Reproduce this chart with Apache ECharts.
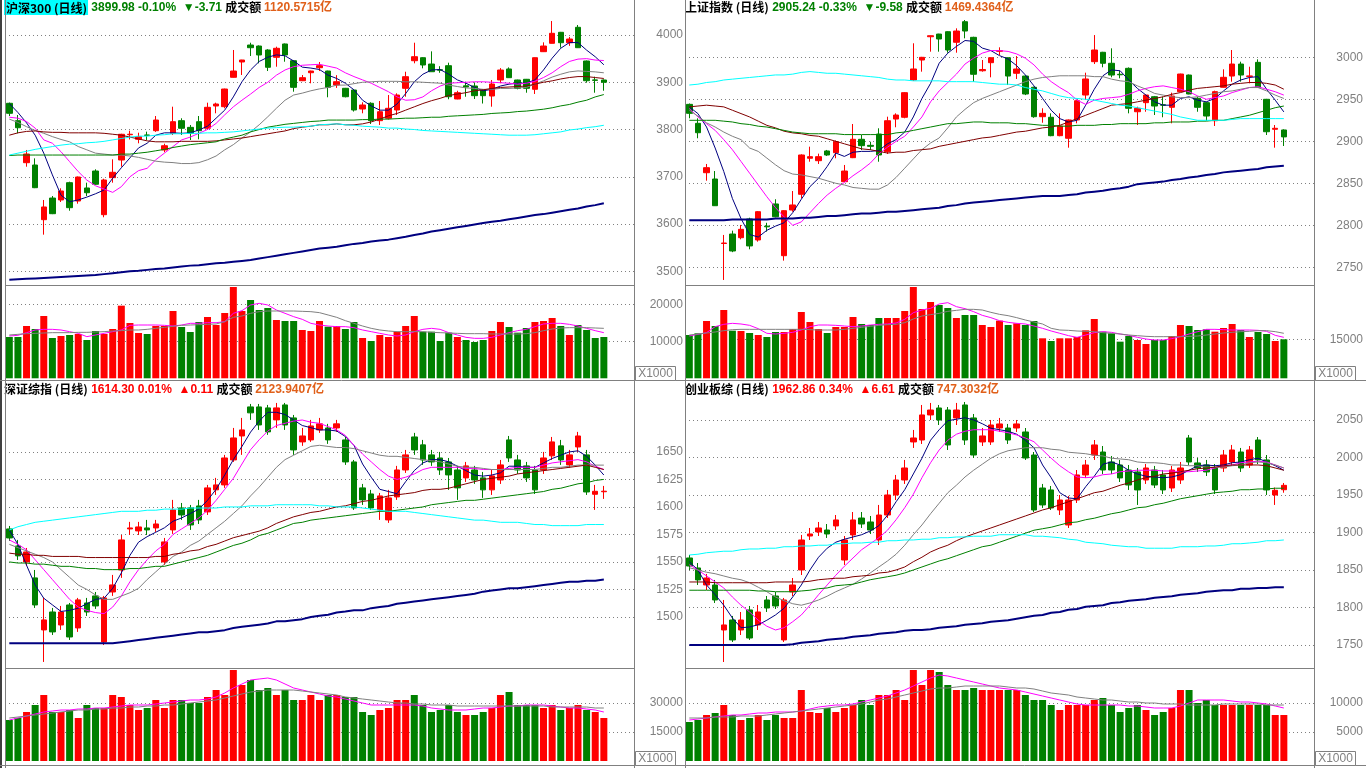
<!DOCTYPE html>
<html><head><meta charset="utf-8">
<script src="https://cdn.jsdelivr.net/npm/echarts@6/dist/echarts.min.js"></script>
<style>html,body{margin:0;padding:0;background:#fff;overflow:hidden}#c{width:1366px;height:768px}</style>
</head><body><div id="c"></div><script>
// ---------- 沪深300 (top-left) ----------
const tlOHLC = [[3855.5,3834.3,3828.6,3857],[3818.7,3803.8,3792,3830.7],[3729.8,3748.2,3721.3,3756.7],[3724.9,3676.9,3676,3739],[3609.2,3636.1,3577.5,3650.9],[3655,3621.9,3621,3659.3],[3650.9,3669.9,3646.6,3675.6],[3687.5,3634.6,3628.2,3689.6],[3648.7,3699.5,3643,3700.5],[3676.3,3666.3,3659.3,3687.5],
[3712.2,3684.1,3683,3715.8],[3619.8,3693.2,3614.3,3695.9],[3698.1,3709.5,3687.5,3736.9],[3735.5,3789.9,3721.3,3791],[3789,3790,3779,3797.5],[3779.3,3784.8,3770.8,3793.3],[3788.5,3787.5,3777.8,3795.5],[3797.5,3820.1,3795,3828.6],[3756.7,3765.7,3752,3770],[3792,3816.6,3788.4,3848.3],
[3818.7,3802.6,3788.4,3823.8],[3804.6,3792,3777.8,3809.6],[3816.6,3797.5,3779.3,3828.6],[3802.6,3847,3799,3856.8],[3849.8,3854,3834.3,3856.8],[3848.3,3885.7,3844.9,3886.5],[3910.5,3923.8,3910,3968.3],[3942.9,3947.1,3915.4,3947.5],[3978.8,3973.1,3955.6,3983.7],[3976.7,3957.7,3940.1,3978],
[3968.3,3931.7,3923.8,3970],[3952.8,3971.9,3932.9,3975.3],[3981,3957.7,3943.5,3982],[3945.6,3889.3,3880,3946.5],[3903.3,3909.7,3902.5,3915.4],[3920.2,3923.8,3897.8,3924.5],[3930.8,3935.1,3923.8,3942.9],[3923.8,3889.3,3868.2,3924.5],[3894.2,3901.2,3888,3915],[3887.2,3869.4,3868,3888],
[3883.6,3841.3,3838,3884.5],[3843.4,3851.9,3834.3,3857.6],[3855.5,3818.7,3811.7,3857.6],[3818.7,3837.7,3809.6,3860.3],[3823.8,3844.9,3821,3873],[3841.3,3873,3830.7,3876.6],[3887.2,3911.8,3869.4,3922.3],[3945.6,3954.1,3940.1,3983.7],[3952,3936.5,3929.5,3953],[3938.6,3922.3,3922,3965.4],
[3926.5,3925.5,3920,3934],[3935.1,3869.4,3864,3941.4],[3864.6,3877.9,3864,3882],[3892.5,3890,3869.4,3901.2],[3892.1,3871.6,3864.6,3899.7],[3883.6,3871.6,3855,3885],[3870.9,3896.3,3848.3,3904.8],[3904.8,3925.9,3898,3930],[3928.1,3909.7,3909,3931.5],[3904.8,3887.2,3885,3905.5],
[3906.3,3887.2,3877.9,3907],[3885.1,3952,3875.2,3952.5],[3964.7,3976.7,3964,3984.5],[3982.4,4003.6,3982,4029.6],[4005.7,3983.7,3973.1,4006.5],[3983.7,3991.5,3977,3996],[4016.3,3973.1,3972.5,4021.2],[3945,3903.3,3899.1,3946],[3905,3904,3877.9,3911.8],[3904.8,3899.98,3882.1,3906]];
const tlMA5 = [3855,3836,3814,3788,3750,3704,3661,3647,3651,3657,3664,3672,3697,3719,3740,3761,3771,3788,3793,3793,3792,3793,3799,3807,3824,3841,3869,3901,3926,3944,3953,3958,3956,3945,3932,3930,3927,3915,3908,3898,3884,3862,3850,3841,3841,3854,3876,3901,3917,3926,3927,3917,3905,3898,3889,3882,3885,3892,3896,3898,3898,3905,3926,3951,3972,3984,3984,3968,3954,3937];
const tlMA10 = [3826,3824,3817,3803,3778,3771,3753,3732,3711,3693,3681,3674,3667,3679,3700,3713,3718,3736,3750,3764,3778,3784,3792,3800,3813,3831,3848,3862,3875,3889,3900,3915,3926,3933,3936,3937,3938,3934,3930,3920,3912,3905,3898,3889,3880,3869,3862,3863,3869,3882,3892,3898,3899,3900,3901,3901,3900,3899,3898,3896,3898,3902,3910,3920,3933,3944,3949,3950,3947,3946];
const tlMA20 = [3822,3815,3806,3798,3792,3785,3779,3774,3764,3757,3750,3748,3746,3746,3744,3741,3737,3733,3731,3730,3728,3728,3730,3736,3744,3757,3768,3782,3795,3810,3827,3845,3862,3873,3877,3882,3886,3889,3894,3894,3897,3900,3901,3902,3902,3902,3901,3901,3900,3899,3898,3894,3891,3888,3887,3885,3885,3887,3887,3888,3889,3896,3903,3911,3917,3922,3924,3923,3922,3920];
const tlMA30 = [3788,3793,3796,3797,3795,3794,3794,3793,3793,3793,3793,3792,3790,3788,3784,3780,3776,3774,3774,3774,3775,3775,3775,3775,3776,3778,3780,3782,3785,3788,3791,3794,3797,3802,3805,3807,3810,3810,3812,3810,3810,3812,3816,3822,3829,3834,3841,3848,3855,3861,3866,3872,3875,3878,3882,3884,3887,3889,3890,3891,3892,3896,3900,3903,3907,3910,3912,3912,3910,3908];
const tlMA60 = [3745,3746,3746,3746,3746,3746,3746,3746,3746,3746,3746,3746,3746,3748,3748,3750,3752,3755,3758,3762,3765,3768,3770,3772,3774,3780,3784,3788,3795,3800,3805,3808,3811,3813,3815,3817,3818,3820,3820,3820,3820,3821,3821,3822,3822,3823,3824,3824,3825,3826,3826,3828,3829,3830,3831,3832,3834,3835,3836,3838,3839,3841,3843,3846,3850,3853,3858,3862,3869,3874];
const tlMA120 = [3746,3750,3754,3758,3761,3764,3767,3769,3770,3772,3773,3775,3778,3781,3784,3786,3786,3788,3789,3791,3791,3792,3792,3793,3793,3794,3795,3797,3799,3801,3803,3804,3805,3805,3806,3807,3810,3811,3812,3810,3809,3807,3806,3805,3803,3803,3801,3800,3798,3797,3796,3795,3794,3793,3792,3791,3790,3789,3788,3788,3788,3789,3791,3793,3795,3799,3801,3804,3806,3809];
const tlMA250 = [3482,3483,3484,3485,3486,3487,3488,3489,3490,3491,3492,3494,3496,3498,3500,3501,3503,3505,3506,3508,3510,3512,3513,3515,3517,3518,3520,3522,3524,3527,3530,3533,3536,3539,3542,3545,3548,3550,3552,3555,3558,3560,3563,3565,3567,3570,3573,3577,3580,3584,3587,3590,3593,3596,3599,3602,3605,3607,3610,3613,3616,3619,3621,3624,3627,3630,3633,3637,3640,3644];
const tlVol = [11160,11160,14135,13324,16838,10892,11432,11703,11973,10351,12784,11973,13324,19630,14946,12243,11973,14135,14135,18189,13865,12514,15216,16568,14405,17649,24676,18189,21162,18459,19000,15757,15486,15486,13054,12784,15486,13955,14135,13324,15216,10892,10081,11703,11162,12604,14135,16838,12604,12604,10081,12333,11162,10351,9811,10351,12784,15216,13865,12333,13595,15216,15486,16297,14135,11703,14405,13054,10892,11162];
const tlVolMA5 = [11432,11613,12333,13054,13234,13234,13054,12604,12153,11252,11703,12153,12604,13054,14315,14405,14405,14405,14315,14135,14405,14856,14856,15036,15036,15306,17559,18279,19811,20261,19811,18459,17559,16658,15937,14856,14405,14135,13955,13955,13685,13054,12604,12153,11703,11432,11703,12604,13234,13505,13234,12333,11703,11072,10802,10802,11072,11703,12333,12874,13234,13955,14676,14856,14856,14585,14135,13505,12874,12333];
const tlVolMA10 = [11703,11883,12063,12153,12243,12333,12333,12333,12423,12423,12514,12604,12784,12874,13054,13054,13234,13505,13775,14045,14315,14405,14495,14585,14676,15306,16478,16838,17559,18009,18189,18189,18189,18189,18099,18009,17739,17108,16478,15577,14856,14135,13505,13054,12784,12604,12604,12604,12604,12423,12333,12243,12153,12063,12063,12063,11973,11973,11973,11973,12063,12333,12874,13324,13595,13685,13685,13685,13595,13505];
const tlTicks = [3500,3600,3700,3800,3900,4000];
const tlVolTicks = [10000,20000];

// ---------- 上证指数 (top-right) ----------
const trOHLC = [[2944,2933.3,2927.4,2945],[2921.4,2910.2,2903.6,2927.4],[2862.6,2868.6,2853.1,2873],[2855.1,2823.3,2823,2864.6],[2778.3,2778.9,2734.9,2788.5],[2789.6,2769.4,2768,2793.6],[2785.2,2795.2,2783.3,2800.4],[2807.5,2775.4,2771.4,2809],[2782.5,2816.2,2780.5,2817],[2799,2798.2,2792.4,2803],
[2825.4,2810.2,2809.5,2831],[2763.8,2817.4,2757.9,2818],[2818.2,2824.2,2816.2,2840.8],[2836.9,2883.7,2832.1,2884.5],[2879.8,2881.7,2875.7,2893.6],[2876.9,2881.7,2873,2885.3],[2888.5,2883.7,2882.5,2889.7],[2886.4,2899.5,2879.8,2901],[2851.9,2864.6,2851.5,2871.8],[2880.5,2902.4,2880,2920.6],
[2902.4,2894.8,2889.6,2907.5],[2895.2,2894,2889.6,2899.5],[2908.7,2883.7,2875.7,2915.5],[2887.6,2924.5,2884.9,2929.3],[2926.5,2931.3,2916.7,2933.3],[2928.6,2957.9,2927.4,2958.5],[2973,2986.1,2972,3016.7],[2996.8,3000,2982.9,3000.5],[3024.5,3025.7,3006.7,3026],[3027.7,3021.8,3006.7,3028],
[3030.5,3008.7,3005.5,3031],[3017.9,3031.3,3005.5,3034.5],[3042.4,3031.3,3022.6,3044.4],[3023.8,2979.8,2971,3024.5],[2984,2985.5,2982.9,2996.8],[2993.6,2999.5,2976.2,3000],[3007.2,3007.9,3002.7,3011.9],[2999.5,2977.7,2967,3000],[2981,2986.1,2974.2,3001.5],[2977.7,2956.3,2955,2978.5],
[2964.3,2929.3,2928,2965],[2929.3,2933.3,2922.1,2939.3],[2928.6,2906.7,2906,2933.3],[2906.7,2918.2,2906,2933.3],[2903.6,2925.4,2892.4,2926],[2925.4,2948.3,2921.4,2949],[2955.1,2974.2,2950,2981.7],[2994.8,3008.7,2992,3026.5],[3006,2992.9,2988.1,3006.5],[2992.9,2978.9,2976.2,3010.7],
[2979.8,2979.2,2975,2983.7],[2986.9,2939.3,2933.3,2988],[2935.2,2939.3,2919.4,2941.2],[2946,2955.1,2935.2,2955.5],[2953.1,2942,2931.3,2954],[2943.5,2943,2928.6,2953.1],[2940.5,2953.9,2921.4,2957.9],[2959.1,2980.1,2959,2980.5],[2978.9,2956.3,2956,2979.5],[2951.2,2940.5,2935.2,2953.1],
[2946,2930.1,2924.5,2947],[2924.5,2959.1,2918.2,2960.3],[2964.3,2976.2,2964,2985.7],[2977.7,2992,2971,3008.7],[2992,2978.9,2971,2994.8],[2977.3,2977.8,2969,2988.8],[2994,2964.3,2964,2997.6],[2950,2911.4,2907.5,2950.5],[2914.3,2915.5,2892.4,2919.4],[2913.5,2905.24,2894.4,2914.3]];
const trMA5 = [2941,2933,2917,2892,2864,2832,2808,2789,2786,2794,2799,2803,2815,2831,2846,2856,2870,2886,2882,2887,2888,2888,2889,2897,2902,2911,2929,2951,2969,2993,3005,3013,3020,3019,3011,3008,3002,2998,2990,2979,2966,2951,2937,2927,2923,2925,2943,2962,2978,2985,2984,2973,2963,2955,2947,2943,2943,2951,2953,2949,2947,2951,2960,2968,2973,2976,2977,2962,2949,2935];
const trMA10 = [2939,2929,2921,2913,2902,2890,2876,2862,2848,2834,2821,2810,2800,2804,2815,2826,2836,2844,2851,2859,2866,2874,2885,2893,2900,2906,2917,2929,2947,2960,2970,2980,2992,2999,3005,3008,3008,3007,3004,2999,2991,2980,2971,2964,2958,2949,2944,2949,2951,2952,2953,2956,2960,2963,2965,2966,2964,2962,2959,2954,2950,2952,2954,2958,2961,2964,2965,2962,2959,2955];
const trMA20 = [2937,2930,2922,2917,2911,2906,2902,2892,2888,2880,2872,2865,2861,2860,2858,2856,2853,2850,2848,2845,2844,2843,2843,2848,2857,2868,2879,2890,2898,2904,2916,2929,2938,2946,2951,2955,2959,2963,2967,2971,2974,2976,2977,2978,2978,2978,2978,2977,2977,2974,2972,2971,2966,2962,2957,2955,2953,2952,2952,2953,2955,2957,2959,2960,2962,2964,2964,2960,2955,2951];
const trMA30 = [2941,2942,2943,2942,2941,2937,2933,2929,2924,2919,2916,2912,2910,2909,2907,2906,2903,2900,2897,2894,2891,2890,2888,2886,2887,2887,2889,2890,2891,2894,2896,2898,2900,2902,2904,2905,2907,2909,2911,2912,2914,2916,2917,2919,2923,2927,2931,2935,2939,2943,2944,2945,2947,2949,2951,2953,2956,2958,2961,2963,2964,2965,2966,2968,2969,2970,2970,2969,2967,2962];
const trMA60 = [2925,2925,2925,2925,2924,2923,2921,2920,2918,2917,2915,2913,2911,2910,2909,2909,2909,2909,2908,2908,2908,2908,2908,2908,2910,2911,2913,2915,2917,2919,2921,2921,2922,2923,2923,2922,2922,2922,2921,2921,2920,2919,2919,2918,2918,2919,2919,2919,2920,2920,2921,2921,2921,2921,2922,2922,2923,2923,2923,2924,2924,2925,2925,2927,2929,2931,2934,2937,2940,2942];
const trMA120 = [2967,2968,2970,2971,2973,2974,2975,2976,2977,2978,2979,2979,2980,2982,2983,2982,2981,2981,2980,2979,2978,2977,2976,2974,2973,2973,2972,2972,2972,2972,2971,2971,2971,2971,2970,2969,2968,2968,2967,2964,2962,2960,2957,2954,2952,2951,2950,2949,2947,2945,2943,2942,2940,2938,2936,2934,2932,2929,2927,2925,2925,2925,2925,2926,2927,2927,2927,2927,2927,2927];
const trMA250 = [2806,2806,2806,2806,2806,2807,2807,2807,2807,2807,2808,2808,2808,2809,2809,2810,2811,2811,2812,2813,2814,2814,2815,2816,2816,2817,2818,2819,2820,2821,2823,2824,2826,2827,2828,2829,2830,2831,2832,2833,2834,2835,2835,2835,2836,2837,2839,2840,2841,2843,2844,2846,2849,2850,2851,2852,2854,2855,2857,2858,2860,2861,2863,2864,2865,2866,2867,2869,2870,2871];
const trVol = [16654,17308,22038,20115,26269,18308,18192,17423,16654,15885,17808,17808,18962,25500,21654,18962,17423,19731,19731,23577,20885,20500,23192,23192,23192,25885,35115,26654,29346,28192,27038,23192,24346,24346,20500,19731,22167,20500,21141,20500,22038,15385,14346,15385,15385,15885,18449,22808,17936,17308,14090,16269,14731,13192,14731,14731,16269,20500,20115,18577,18833,17936,19346,20885,18577,15885,17808,17038,14346,15000];
const trVolMA5 = [16269,16910,17551,19859,20756,21141,20885,20372,19090,17308,17038,17308,17679,18577,19859,20500,20500,20372,20115,19859,20115,20500,20756,20885,21269,22679,25244,26269,26910,28577,29090,27551,26782,25628,24218,23321,22167,21526,21141,20885,20115,19218,18192,17308,16410,15756,16654,17551,17936,17679,17038,16526,15756,15115,14731,14731,15244,16012,17038,17936,18833,18833,18705,18577,18577,18577,18449,18064,16526,15756];
const trVolMA10 = [16654,17038,17423,17808,18320,18705,18833,18833,18833,18833,18833,18833,18833,18833,18705,18577,18577,18577,18833,19218,19603,19988,20372,20628,20756,21397,22808,23962,24474,24987,25756,26141,26526,26526,26269,25372,24603,24090,23321,22423,21654,20885,19218,18577,18449,18192,18064,17936,17551,17308,17038,16654,16397,16141,16012,16012,16012,16012,16141,16269,16654,17038,17423,17679,17936,18064,18320,18320,17936,17308];
const trTicks = [2750,2800,2850,2900,2950,3000,3050];
const trVolTicks = [15000];

// ---------- 深证综指 (bottom-left) ----------
const blOHLC = [[1580,1571.8,1569.1,1582.7],[1564.5,1555.5,1551.8,1570],[1550,1559.1,1546.4,1562.7],[1535.5,1510.9,1508.2,1542.7],[1488.2,1497.3,1459.1,1517.3],[1504.5,1486.4,1483.6,1508.2],[1492.7,1504.5,1488.2,1510],[1510.9,1481.8,1479.1,1512.7],[1490,1515.5,1486.4,1517.3],[1512.7,1504.5,1500.9,1517.3],
[1519.1,1510,1507.3,1522.7],[1477.3,1517.3,1474.5,1519.1],[1522.7,1529.1,1519.1,1538.2],[1542.7,1570,1535.5,1574.5],[1580,1580.9,1574.5,1586.4],[1578.2,1581.8,1574.5,1586.4],[1580.9,1579.1,1574.5,1588.2],[1580.9,1584.5,1577.3,1588.2],[1550,1568.2,1547.3,1571.8],[1579.1,1597.3,1575.5,1606.4],
[1599.1,1592.7,1588.2,1603.6],[1599.1,1583.6,1579.1,1601.8],[1600.9,1588.2,1584.5,1606.4],[1595.5,1617.3,1592.7,1620],[1615.5,1620,1610.9,1626.4],[1620,1644.5,1617.3,1647.3],[1642.7,1662.7,1640.9,1671.8],[1664.5,1670,1647.3,1680.9],[1690.9,1685.5,1679.1,1693.6],[1690.9,1674.5,1670,1693.6],
[1690,1668.2,1665.5,1692.7],[1679.1,1690,1671.8,1694.5],[1692.7,1674.5,1670,1694.5],[1680.9,1651.8,1647.3,1683.6],[1659.1,1664.5,1655.5,1671.8],[1660.9,1673.6,1659.1,1679.1],[1670,1675.5,1667.3,1680.9],[1671.8,1660.9,1657.3,1675.5],[1671.8,1675.5,1668.2,1679.1],[1660.9,1640.9,1638.2,1663.6],
[1640.9,1599.1,1597.3,1642.7],[1617.3,1606.4,1601.8,1620.9],[1611.8,1599.1,1597.3,1615.5],[1597.3,1610,1588.2,1612.7],[1588.2,1608.2,1585.5,1615.5],[1609.1,1633.6,1606.4,1637.3],[1633.6,1647.3,1630.9,1651.8],[1663.6,1651.8,1647.3,1667.3],[1656.4,1642.7,1638.2,1660.9],[1647.3,1640.9,1637.3,1651.8],
[1644.5,1633.6,1629.1,1650],[1640.9,1629.1,1615.5,1644.5],[1633.6,1617.3,1606.4,1637.3],[1626.4,1637.3,1622.7,1640.9],[1633.6,1624.5,1620.9,1637.3],[1626.4,1615.5,1608.2,1631.8],[1615.5,1628.2,1610.9,1633.6],[1624.5,1638.2,1620.9,1642.7],[1660.9,1644.5,1640.9,1664.5],[1642.7,1633.6,1630,1647.3],
[1637.3,1626.4,1622.7,1640.9],[1633.6,1615.5,1611.8,1637.3],[1633.6,1644.5,1630,1650],[1646.4,1659.1,1642.7,1663.6],[1655.5,1642.7,1638.2,1660.9],[1638.2,1647.3,1635.5,1651.8],[1654.5,1664.5,1650,1668.2],[1647.3,1613.6,1610.9,1651.8],[1611.5,1614.19,1597.3,1620],[1613.8,1614.3,1607.3,1619.1]];
const blMA5 = [1579,1566,1547,1529,1517,1511,1505,1506,1508,1512,1516,1517,1526,1540,1556,1568,1573,1577,1581,1587,1590,1594,1598,1606,1616,1629,1643,1655,1668,1678,1686,1686,1684,1679,1674,1672,1670,1670,1669,1664,1656,1639,1627,1616,1614,1612,1623,1633,1640,1643,1643,1641,1637,1633,1629,1628,1629,1631,1637,1637,1636,1636,1640,1644,1647,1650,1651,1646,1638,1629];
const blMA10 = [1570,1566,1561,1552,1543,1534,1525,1516,1509,1506,1504,1503,1509,1519,1532,1543,1552,1560,1566,1575,1580,1585,1590,1597,1606,1616,1626,1639,1652,1661,1669,1674,1676,1678,1679,1677,1676,1673,1670,1665,1656,1648,1641,1634,1628,1625,1627,1630,1634,1636,1636,1636,1636,1635,1635,1634,1634,1634,1635,1636,1636,1636,1638,1640,1641,1642,1643,1641,1637,1634];
const blMA20 = [1566,1563,1560,1557,1554,1550,1543,1536,1529,1525,1520,1516,1516,1519,1522,1526,1534,1541,1548,1555,1559,1565,1569,1575,1581,1587,1594,1601,1610,1618,1627,1636,1643,1647,1651,1655,1656,1655,1654,1654,1653,1651,1649,1647,1646,1646,1645,1644,1643,1642,1641,1639,1637,1636,1636,1635,1634,1634,1634,1634,1634,1634,1635,1636,1636,1637,1638,1638,1638,1638];
const blMA30 = [1558,1557,1557,1556,1556,1555,1555,1555,1555,1554,1554,1554,1554,1554,1554,1554,1554,1555,1555,1557,1558,1560,1561,1564,1566,1569,1572,1574,1576,1578,1581,1585,1588,1591,1593,1595,1596,1598,1600,1601,1603,1605,1606,1608,1610,1611,1612,1613,1615,1616,1616,1617,1619,1621,1623,1625,1626,1627,1628,1630,1631,1632,1633,1634,1635,1636,1637,1638,1636,1634];
const blMA60 = [1550,1549,1549,1548,1548,1547,1546,1546,1545,1544,1544,1543,1543,1543,1544,1544,1545,1546,1546,1548,1550,1552,1554,1556,1559,1562,1565,1567,1570,1574,1576,1579,1582,1585,1586,1588,1589,1590,1591,1592,1593,1594,1595,1596,1596,1597,1598,1599,1600,1602,1603,1604,1605,1606,1606,1607,1608,1609,1610,1611,1612,1613,1614,1616,1617,1619,1621,1622,1624,1625];
const blMA120 = [1579,1582,1584,1586,1587,1588,1589,1590,1591,1592,1593,1594,1595,1596,1596,1596,1597,1597,1598,1598,1598,1599,1599,1599,1599,1600,1600,1600,1601,1601,1601,1602,1602,1602,1602,1602,1601,1601,1600,1600,1600,1599,1598,1597,1596,1596,1596,1595,1594,1593,1592,1591,1590,1589,1588,1588,1587,1586,1586,1586,1585,1584,1584,1583,1583,1583,1583,1584,1584,1584];
const blMA250 = [1476,1476,1476,1476,1476,1476,1476,1476,1476,1476,1476,1476,1476,1477,1478,1479,1480,1481,1482,1483,1484,1485,1486,1486,1487,1488,1490,1491,1492,1493,1494,1496,1496,1497,1498,1500,1501,1502,1504,1505,1506,1506,1508,1509,1510,1512,1513,1514,1515,1516,1517,1518,1519,1520,1521,1523,1524,1525,1526,1526,1527,1528,1529,1530,1531,1532,1532,1533,1533,1534];
const blVol = [21205,22240,25343,28963,34135,25343,25343,26377,22240,28963,27412,27412,34135,33101,28963,26377,27412,31549,27412,31549,31549,29998,29998,33101,36721,34135,47065,39307,41893,36721,37756,34135,36721,31549,31549,34135,31549,34135,34135,33101,33101,25343,23791,26377,27412,31549,31549,34135,28963,25343,26377,28963,25343,23791,23791,25343,27412,34135,35687,28963,28963,28963,27412,28963,26377,27412,28963,26377,25343,22240];
const blVolMA5 = [21205,22240,23274,24308,25343,25860,26377,26377,26894,26894,27412,27412,27929,28446,28963,28963,28963,29480,29998,30515,31032,31549,31549,32066,33101,35170,37756,39824,41893,42410,42928,41893,39824,37756,36721,35687,34652,33618,33101,32066,31032,29998,28963,28963,28963,28963,28963,28963,28446,27412,26894,26377,26377,26377,26894,27412,27412,27929,28446,28446,28963,28963,28963,28446,27929,27412,27412,26894,26377,25343];
const blVolMA10 = [22240,22757,23274,23791,24308,24826,25343,25860,26377,26377,26894,26894,27412,27412,27929,27929,28446,28446,28963,28963,29480,29998,30515,31032,31549,32584,33618,34652,35687,36204,36721,36721,36721,36721,36204,35687,35170,34652,34135,33101,32584,32066,31549,31032,30515,29998,29998,29480,29480,28963,28963,28963,28446,28446,28446,28446,28446,28446,28446,28446,28446,28446,28446,27929,27929,27929,27929,27929,27412,27412];
const blTicks = [1500,1525,1550,1575,1600,1625,1650];
const blVolTicks = [15000,30000];

// ---------- 创业板综 (bottom-right) ----------
const brOHLC = [[1866,1855.3,1850,1870],[1852.7,1836.7,1830,1859.3],[1830,1839.3,1823.3,1844.7],[1830,1810,1806,1836.7],[1770,1776.7,1727.3,1810],[1783.3,1756.7,1754,1788.7],[1770,1783.3,1763.3,1794],[1796.7,1759.3,1756.7,1802],[1776.7,1794,1770,1803.3],[1810,1799.3,1794,1815.3],
[1815.3,1802,1798,1820.7],[1756.7,1810,1754,1812.7],[1820.7,1830,1815.3,1839.3],[1850,1890,1843.3,1896.7],[1895.3,1898,1890,1906],[1900.7,1906,1895.3,1914],[1903.3,1898,1892.7,1911.3],[1908.7,1916.7,1903.3,1923.3],[1863.3,1890,1856.7,1895.3],[1896.7,1916.7,1890,1927.3],
[1919.3,1911.3,1906,1927.3],[1914,1903.3,1898,1922],[1890,1923.3,1883.3,1936.7],[1923.3,1950,1919.3,1956.7],[1950,1970,1943.3,1976.7],[1970,1986,1964.7,1996.7],[2020.7,2026,2012.7,2036.7],[2023.3,2056.7,2018,2070],[2056.7,2063.3,2050,2072.7],[2066,2050,2043.3,2070],
[2063.3,2016.7,2010,2067.3],[2052.7,2063.3,2043.3,2072.7],[2070,2023.3,2016.7,2074],[2052.7,2003.3,1999.3,2058],[2020.7,2028.7,2015.3,2039.3],[2020.7,2043.3,2016.7,2050],[2039.3,2044.7,2034,2052.7],[2039.3,2023.3,2018,2044.7],[2039.3,2044.7,2034,2050],[2034,1999.3,1996.7,2039.3],
[2003.3,1930,1927.3,2007.3],[1959.3,1936.7,1932.7,1964.7],[1956.7,1932.7,1930,1962],[1930,1943.3,1923.3,1950],[1910,1943.3,1906,1948.7],[1943.3,1976.7,1939.3,1983.3],[1976.7,1990,1972.7,1996.7],[2003.3,2016.7,1996.7,2023.3],[2007.3,1983.3,1978,2015.3],[1994,1983.3,1978,2002],
[1990,1972.7,1967.3,1996.7],[1983.3,1963.3,1956.7,1990],[1980.7,1956.7,1936.7,1986],[1970,1986,1964.7,1991.3],[1983.3,1963.3,1959.3,1988.7],[1976.7,1956.7,1951.3,1983.3],[1959.3,1983.3,1954,1988.7],[1970,1986,1964.7,1994],[2026,1994,1990,2030],[1992.7,1986,1980.7,1999.3],
[1990,1980.7,1975.3,1996.7],[1986,1956.7,1951.3,1991.3],[1986,2003.3,1980.7,2010],[1994,2010,1988.7,2016.7],[2007.3,1986,1980.7,2012.7],[1990,2010,1986,2015.3],[2023.3,1996.7,1991.3,2027.3],[1996.7,1956.7,1950,2003.3],[1950,1956.25,1936.7,1960],[1957,1962.86,1953,1966]];
const brMA5 = [1861,1850,1830,1817,1803,1786,1773,1774,1777,1783,1790,1799,1814,1830,1850,1867,1879,1887,1891,1894,1897,1902,1909,1923,1941,1957,1978,1999,2023,2037,2049,2051,2053,2050,2045,2039,2037,2035,2031,2023,2013,1990,1973,1953,1946,1945,1961,1975,1991,1994,1990,1983,1978,1975,1974,1973,1974,1977,1983,1989,1990,1989,1990,1993,1994,1997,1999,1994,1989,1983];
const brMA10 = [1857,1850,1842,1834,1826,1814,1803,1794,1783,1775,1770,1773,1781,1790,1803,1817,1830,1843,1855,1866,1877,1885,1893,1903,1917,1933,1951,1973,1993,2010,2023,2031,2035,2037,2037,2037,2035,2033,2030,2026,2021,2010,1999,1989,1981,1974,1973,1974,1977,1978,1981,1982,1983,1983,1983,1982,1982,1981,1981,1982,1983,1986,1989,1990,1993,1994,1995,1994,1990,1986];
const brMA20 = [1853,1850,1847,1845,1842,1839,1837,1833,1827,1821,1814,1809,1805,1803,1806,1810,1815,1821,1826,1831,1838,1846,1854,1862,1871,1883,1897,1910,1925,1939,1953,1963,1974,1983,1991,1999,2005,2009,2011,2013,2013,2013,2011,2010,2007,2006,2005,2003,2002,1999,1998,1997,1994,1993,1993,1992,1990,1990,1989,1989,1987,1987,1987,1989,1990,1993,1994,1993,1990,1986];
const brMA30 = [1834,1834,1834,1833,1833,1833,1833,1833,1833,1833,1834,1834,1834,1834,1835,1837,1838,1839,1839,1841,1842,1843,1846,1847,1850,1854,1861,1867,1874,1879,1883,1889,1894,1898,1902,1906,1910,1914,1918,1922,1926,1930,1933,1937,1941,1945,1949,1953,1955,1959,1963,1966,1970,1973,1975,1978,1979,1981,1983,1985,1986,1987,1989,1990,1990,1990,1990,1989,1986,1983];
const brMA60 = [1823,1823,1823,1823,1823,1823,1823,1823,1822,1822,1821,1821,1821,1822,1823,1825,1826,1829,1830,1831,1834,1837,1839,1841,1843,1846,1850,1854,1858,1862,1865,1869,1873,1877,1881,1883,1887,1891,1895,1899,1903,1905,1907,1910,1913,1914,1917,1919,1922,1925,1927,1930,1933,1934,1937,1939,1942,1945,1947,1949,1951,1953,1954,1955,1957,1957,1958,1958,1959,1959];
const brMA120 = [1870,1871,1873,1874,1875,1875,1877,1878,1878,1879,1879,1881,1881,1882,1882,1883,1883,1885,1885,1886,1886,1887,1887,1889,1889,1890,1890,1891,1891,1893,1893,1894,1894,1895,1895,1895,1897,1897,1897,1897,1895,1895,1894,1893,1891,1890,1887,1886,1885,1883,1882,1881,1881,1879,1879,1879,1879,1881,1881,1881,1882,1882,1883,1885,1885,1886,1887,1889,1889,1890];
const brMA250 = [1750,1750,1750,1750,1750,1750,1750,1750,1750,1750,1750,1750,1751,1753,1754,1755,1757,1758,1759,1761,1762,1763,1765,1766,1767,1769,1770,1770,1771,1773,1774,1775,1777,1778,1779,1781,1782,1783,1785,1787,1789,1790,1793,1794,1797,1798,1801,1802,1803,1806,1807,1809,1810,1811,1813,1814,1815,1817,1818,1819,1821,1822,1823,1823,1825,1825,1826,1826,1827,1827];
const brVol = [6724,7068,7930,8275,9654,7930,7068,7413,7930,7068,7930,7413,7413,12240,8448,8275,9137,8448,9137,9654,10516,9654,11378,11378,12240,10516,15688,13102,15688,15344,13102,12240,12240,12585,12240,12240,12240,12240,12240,11378,10516,10516,9654,8792,9654,9654,9654,10516,10861,9654,8448,9137,9654,8792,7930,8448,9137,12240,12240,9999,10516,9654,9654,9654,9654,9654,9654,9654,7930,7930];
const brVolMA5 = [7068,7241,7413,7586,7758,7930,7930,8103,8275,8275,8448,8448,8448,8620,8965,9310,9482,9654,9654,9827,10172,10516,10861,11206,11723,12240,12930,13620,14309,14826,14654,14309,13964,13620,13275,12930,12585,12413,12240,11896,11551,11206,10861,10516,10172,9827,9654,9654,9654,9654,9654,9482,9482,9310,9137,9137,9137,9482,9999,10516,10516,10516,10516,10344,10172,10172,9999,9827,9482,9137];
const brVolMA10 = [7413,7413,7413,7586,7586,7586,7758,7758,7758,7930,8103,8275,8448,8620,8792,8965,9137,9310,9482,9654,9827,10172,10516,10689,11034,11378,11723,12068,12413,12585,12585,12758,12930,12930,12930,12930,12930,12758,12585,12585,12413,12068,11723,11551,11378,11034,10861,10689,10516,10516,10344,10172,10172,9999,9999,9827,9827,9827,9654,9654,9654,9654,9827,9827,9827,9827,9827,9654,9654,9654];
const brTicks = [1750,1800,1850,1900,1950,2000,2050];
const brVolTicks = [5000,10000];

const SLOTS = 73;
const cats = Array.from({length: SLOTS}, (_, i) => String(i));
const RED = '#FF0000', GREEN = '#008000';
const MA_COLORS = ['#000080','#FF00FF','#808080','#800000','#008000','#00FFFF','#000080'];
const MA_WIDTHS = [1,1,1,1,1,1,2];

const panels = [
  {left:5, top:17, h:268, vTop:285, vH:93.3, ymin:3471.0, ymax:4038.1, vmax:25216,
   ohlc:tlOHLC, mas:[tlMA5,tlMA10,tlMA20,tlMA30,tlMA60,tlMA120,tlMA250], vol:tlVol, vmas:[tlVolMA5,tlVolMA10], ticks:tlTicks, vticks:tlVolTicks},
  {left:685, top:17, h:268, vTop:285, vH:93.3, ymin:2728.9, ymax:3048.0, vmax:35885,
   ohlc:trOHLC, mas:[trMA5,trMA10,trMA20,trMA30,trMA60,trMA120,trMA250], vol:trVol, vmas:[trVolMA5,trVolMA10], ticks:trTicks, vticks:trVolTicks},
  {left:5, top:398, h:270, vTop:668, vH:93, ymin:1453.6, ymax:1699, vmax:48103,
   ohlc:blOHLC, mas:[blMA5,blMA10,blMA20,blMA30,blMA60,blMA120,blMA250], vol:blVol, vmas:[blVolMA5,blVolMA10], ticks:blTicks, vticks:blVolTicks},
  {left:685, top:398, h:270, vTop:668, vH:93, ymin:1719.3, ymax:2079.3, vmax:16034,
   ohlc:brOHLC, mas:[brMA5,brMA10,brMA20,brMA30,brMA60,brMA120,brMA250], vol:brVol, vmas:[brVolMA5,brVolMA10], ticks:brTicks, vticks:brVolTicks}
];

const grid = [], xAxis = [], yAxis = [], series = [];
const gridLineStyle = {color:'#808080', type:[1,3], width:1};
function yAx(gi, min, max, ticks){
  return {type:'value', gridIndex:gi, position:'right', min:min, max:max, scale:true,
    axisLine:{show:false}, axisTick:{show:false}, splitLine:{show:false},
    axisLabel:{customValues:ticks, formatter:(v) => String(Math.round(v)), color:'#808080', fontSize:12, fontFamily:'Arial', align:'right', margin:49}};
}
panels.forEach((p, k) => {
  grid[k] = {left:p.left, top:p.top, width:629, height:p.h};
  grid[k+4] = {left:p.left, top:p.vTop, width:629, height:p.vH};
});
panels.forEach((p, k) => {
  xAxis[k] = {type:'category', gridIndex:k, data:cats, show:false, boundaryGap:true};
  yAxis[k] = yAx(k, p.ymin, p.ymax, p.ticks);
});
panels.forEach((p, k) => {
  xAxis[k+4] = {type:'category', gridIndex:k+4, data:cats, show:false, boundaryGap:true};
  yAxis[k+4] = yAx(k+4, 0, p.vmax, p.vticks);
});
panels.forEach((p, k) => {
  series.push({type:'candlestick', xAxisIndex:k, yAxisIndex:k, data:p.ohlc, barWidth:6, z:3, silent:true,
    itemStyle:{color:RED, color0:GREEN, borderColor:RED, borderColor0:GREEN, borderWidth:1},
    markLine:{silent:true, symbol:['none','none'], label:{show:false}, lineStyle:gridLineStyle, z:1,
      data:p.ticks.map(v => ({yAxis:v}))}});
  p.mas.forEach((arr, j) => {
    series.push({type:'line', xAxisIndex:k, yAxisIndex:k, data:arr, symbol:'none', silent:true, z:4,
      lineStyle:{color:MA_COLORS[j], width:MA_WIDTHS[j]}});
  });
  series.push({type:'bar', xAxisIndex:k+4, yAxisIndex:k+4, barWidth:7, silent:true, z:3,
    data:p.vol.map((v, i) => ({value:v, itemStyle:{color: p.ohlc[i] && p.ohlc[i][1] >= p.ohlc[i][0] ? RED : GREEN}})),
    markLine:{silent:true, symbol:['none','none'], label:{show:false}, lineStyle:gridLineStyle, z:1,
      data:p.vticks.map(v => ({yAxis:v}))}});
  const vc = ['#FF00FF','#808080'];
  p.vmas.forEach((arr, j) => {
    series.push({type:'line', xAxisIndex:k+4, yAxisIndex:k+4, data:arr, symbol:'none', silent:true, z:4,
      lineStyle:{color:vc[j], width:1}});
  });
});

const rich = {
  n:{fontSize:12, fontFamily:'"Noto Sans CJK SC"', color:'#000', backgroundColor:'#00FFFF', padding:[2,1,1,2], lineHeight:15},
  k:{fontSize:12, fontFamily:'"Noto Sans CJK SC"', color:'#000', lineHeight:15},
  g:{fontSize:12, fontFamily:'Arial', color:'#008000', lineHeight:15},
  r:{fontSize:12, fontFamily:'Arial', color:'#FF0000', lineHeight:15},
  o:{fontSize:12, fontFamily:'Arial, "Noto Sans CJK SC"', color:'#E0601A', lineHeight:15}
};
const title = [
  {left:4, top:0, padding:0, text:'{n|沪深300 (日线)}{g| 3899.98 -0.10%  ▼-3.71 }{k|成交额 }{o|1120.5715亿}', textStyle:{rich}},
  {left:685, top:0, padding:0, text:'{k|上证指数 (日线)}{g| 2905.24 -0.33%  ▼-9.58 }{k|成交额 }{o|1469.4364亿}', textStyle:{rich}},
  {left:4, top:382, padding:0, text:'{k|深证综指 (日线)}{r| 1614.30 0.01%  ▲0.11 }{k|成交额 }{o|2123.9407亿}', textStyle:{rich}},
  {left:685, top:382, padding:0, text:'{k|创业板综 (日线)}{r| 1962.86 0.34%  ▲6.61 }{k|成交额 }{o|747.3032亿}', textStyle:{rich}}
];

const G = '#808080';
function ln(x1,y1,x2,y2,c,w){return {type:'line', silent:true, z:10, shape:{x1,y1,x2,y2}, style:{stroke:c||G, lineWidth:w||1}};}
function box(x,y){return [{type:'rect', silent:true, z:10, shape:{x:x, y:y, width:40, height:14}, style:{fill:'#fff', stroke:G, lineWidth:1}},
  {type:'text', silent:true, z:11, x:x+20, y:y+7, style:{text:'X1000', fill:G, font:'12px Arial', align:'center', verticalAlign:'middle'}}];}
const graphic = [
  ln(1,0,1,768,'#404040',2), ln(5.5,0,5.5,768),
  ln(634.5,0,634.5,768), ln(685.5,0,685.5,768), ln(1314.5,0,1314.5,768),
  ln(6,285.5,634,285.5), ln(686,285.5,1314,285.5),
  ln(0,380.5,1366,380.5),
  ln(6,668.5,634,668.5), ln(686,668.5,1314,668.5),
  ln(0,765.5,1366,765.5)
].concat(box(635.5,366.5), box(1315.5,366.5), box(635.5,751.5), box(1315.5,751.5));

const chart = echarts.init(document.getElementById('c'), null, {renderer:'canvas'});
chart.setOption({animation:false, backgroundColor:'#fff', title, grid, xAxis, yAxis, series, graphic});
</script></body></html>
